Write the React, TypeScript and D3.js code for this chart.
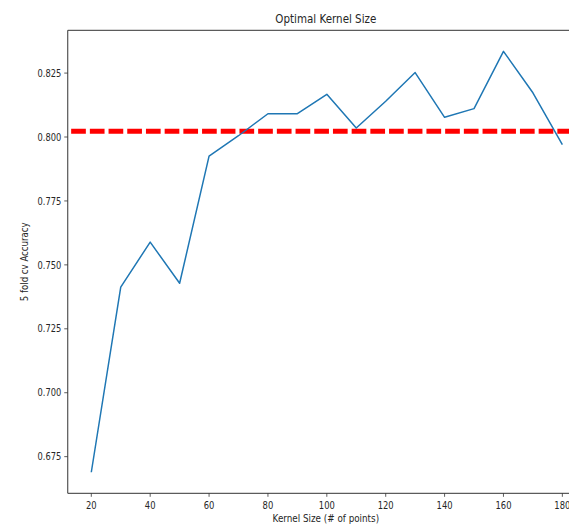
import React from "react";
import * as d3 from "d3";

const kernelSizes = [20, 30, 40, 50, 60, 70, 80, 90, 100, 110, 120, 130, 140, 150, 160, 170, 180];
const accuracy = [0.6689, 0.7413, 0.7589, 0.7428, 0.7925, 0.8005, 0.8091, 0.8091, 0.8167, 0.8035, 0.814, 0.8252, 0.8077, 0.8111, 0.8335, 0.8173, 0.797];
const baseline = 0.8023;
const xTicks = [20, 40, 60, 80, 100, 120, 140, 160, 180];
const yTicks = [0.675, 0.7, 0.725, 0.75, 0.775, 0.8, 0.825];

const title = "Optimal Kernel Size";
const xLabel = "Kernel Size (# of points)";
const yLabel = "5 fold cv Accuracy";

export default function App() {
  const W = 569, H = 525;
  const left = 67.75, right = 585.9, top = 30.3, bottom = 493.3;
  const xMin = d3.min(kernelSizes)!, xMax = d3.max(kernelSizes)!;
  const xm = (xMax - xMin) * 0.05;
  const x = d3.scaleLinear().domain([xMin - xm, xMax + xm]).range([left, right]);
  const yMin = d3.min(accuracy)!, yMax = d3.max(accuracy)!;
  const ym = (yMax - yMin) * 0.05;
  const y = d3.scaleLinear().domain([yMin - ym, yMax + ym]).range([bottom, top]);
  const line = d3.line<number>().x((_, i) => x(kernelSizes[i])).y((d) => y(d));
  const font = "'DejaVu Sans', sans-serif";
  const tc = "#262626";

  return (
    <svg width={W} height={H} style={{ position: "absolute", left: 0, top: 0, background: "#fff" }}>
      <defs>
        <clipPath id="plotclip">
          <rect x={left} y={top} width={right - left} height={bottom - top} />
        </clipPath>
      </defs>
      <rect x={0} y={0} width={W} height={H} fill="#fff" />
      <g clipPath="url(#plotclip)">
        <line
          x1={left}
          x2={right}
          y1={y(baseline)}
          y2={y(baseline)}
          stroke="#ff0000"
          strokeWidth={5}
          strokeDasharray="14.7 4"
          strokeDashoffset={15.3}
        />
        <path d={line(accuracy) || ""} fill="none" stroke="#1f77b4" strokeWidth={1.5} strokeLinejoin="round" />
      </g>
      {/* spines */}
      <line x1={left} x2={left} y1={top} y2={bottom} stroke="#333" strokeWidth={1} />
      <line x1={left} x2={right} y1={bottom} y2={bottom} stroke="#333" strokeWidth={1} />
      <line x1={left} x2={right} y1={top} y2={top} stroke="#333" strokeWidth={1} />
      <line x1={right} x2={right} y1={top} y2={bottom} stroke="#333" strokeWidth={1} />
      {/* x ticks */}
      {xTicks.map((t) => (
        <g key={"x" + t}>
          <line x1={x(t)} x2={x(t)} y1={bottom} y2={bottom + 3.5} stroke="#333" strokeWidth={0.8} />
          <text
            transform={`translate(${x(t)},${bottom + 15.5}) scale(0.84,1)`}
            textAnchor="middle"
            fontFamily={font}
            fontSize={10}
            fill={tc}
          >
            {t}
          </text>
        </g>
      ))}
      {/* y ticks */}
      {yTicks.map((t) => (
        <g key={"y" + t}>
          <line x1={left - 3.5} x2={left} y1={y(t)} y2={y(t)} stroke="#333" strokeWidth={0.8} />
          <text
            transform={`translate(${left - 6.5},${y(t) + 3.7}) scale(0.83,1)`}
            textAnchor="end"
            fontFamily={font}
            fontSize={10}
            fill={tc}
          >
            {d3.format(".3f")(t)}
          </text>
        </g>
      ))}
      <text
        transform={`translate(${(left + right) / 2 - 1},23) scale(0.86,1)`}
        textAnchor="middle"
        fontFamily={font}
        fontSize={12}
        fill={tc}
      >
        {title}
      </text>
      <text
        transform={`translate(${(left + right) / 2 - 1},521.5) scale(0.88,1)`}
        textAnchor="middle"
        fontFamily={font}
        fontSize={10}
        fill={tc}
      >
        {xLabel}
      </text>
      <text
        transform={`translate(27.5,${(top + bottom) / 2}) rotate(-90) scale(0.86,1)`}
        textAnchor="middle"
        fontFamily={font}
        fontSize={10}
        fill={tc}
      >
        {yLabel}
      </text>
    </svg>
  );
}
